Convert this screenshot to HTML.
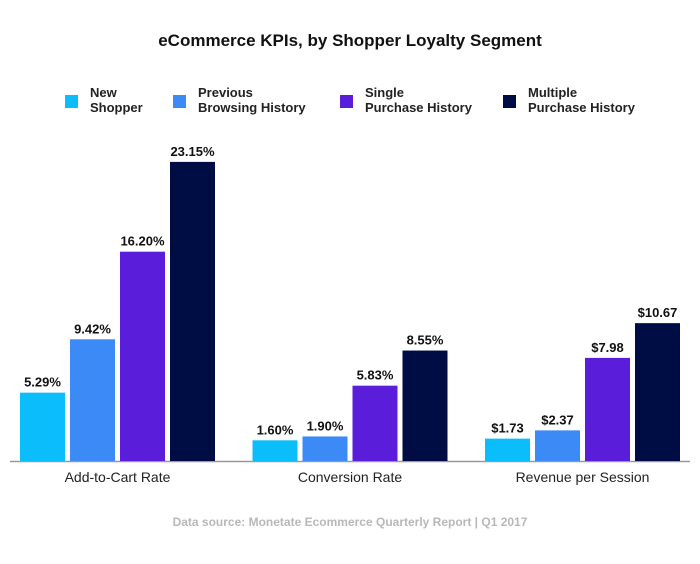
<!DOCTYPE html>
<html><head><meta charset="utf-8"><style>
body{margin:0;background:#fff;font-family:"Liberation Sans",sans-serif}
svg text{font-family:"Liberation Sans",sans-serif}
</style></head><body>
<svg id="c" width="700" height="559">
<text x="350" y="46" text-anchor="middle" font-size="17" font-weight="bold" fill="#111">eCommerce KPIs, by Shopper Loyalty Segment</text>
<line x1="10" x2="690" y1="461.5" y2="461.5" stroke="#999" stroke-width="1.5"/>
<text x="350" y="526" text-anchor="middle" font-size="12" font-weight="bold" fill="#b8b8b8">Data source: Monetate Ecommerce Quarterly Report | Q1 2017</text>
</svg>
<script>
const categories=["Add-to-Cart Rate","Conversion Rate","Revenue per Session"];
const seriesNames=[["New","Shopper"],["Previous","Browsing History"],["Single","Purchase History"],["Multiple","Purchase History"]];
const newShopper=[5.29,1.60,1.73];
const prevBrowsing=[9.42,1.90,2.37];
const singlePurchase=[16.20,5.83,7.98];
const multiPurchase=[23.15,8.55,10.67];
const labels=[["5.29%","1.60%","$1.73"],["9.42%","1.90%","$2.37"],["16.20%","5.83%","$7.98"],["23.15%","8.55%","$10.67"]];
const colors=["#0bbdfb","#3c8af5","#5a1edb","#000d45"];
const series=[newShopper,prevBrowsing,singlePurchase,multiPurchase];
const svg=document.getElementById('c');const NS="http://www.w3.org/2000/svg";
const base=461, k=12.92;
const y=v=>base-v*k;
const gx=i=>117.5+i*232.5;
const bw=45,step=50;
function mk(t,a){const e=document.createElementNS(NS,t);for(const n in a)e.setAttribute(n,a[n]);svg.appendChild(e);return e;}
categories.forEach((c,i)=>{
 const t=mk('text',{x:gx(i),y:482,'text-anchor':'middle','font-size':14,fill:'#222'});t.textContent=c;
 
 
 series.forEach((s,j)=>{
  const x=gx(i)-97.5+j*step;
  const r=mk('rect',{x:x,y:y(s[i]),width:bw,height:base-y(s[i]),fill:colors[j]});
  
  
  const l=mk('text',{x:x+bw/2,y:y(s[i])-6,'text-anchor':'middle','font-size':13,'font-weight':'bold',fill:'#111'});
  l.textContent=labels[j][i];
  
  
 });
});
const lx=[65,173,340,503];
seriesNames.forEach((n,j)=>{
 const r=mk('rect',{x:lx[j],y:95,width:13,height:13,fill:colors[j]});
 
 
 n.forEach((line,m)=>{
  const t=mk('text',{x:lx[j]+25,y:97+m*15,'font-size':13,'font-weight':'bold',fill:'#222'});t.textContent=line;
  
  
 });
});
</script>
</body></html>
